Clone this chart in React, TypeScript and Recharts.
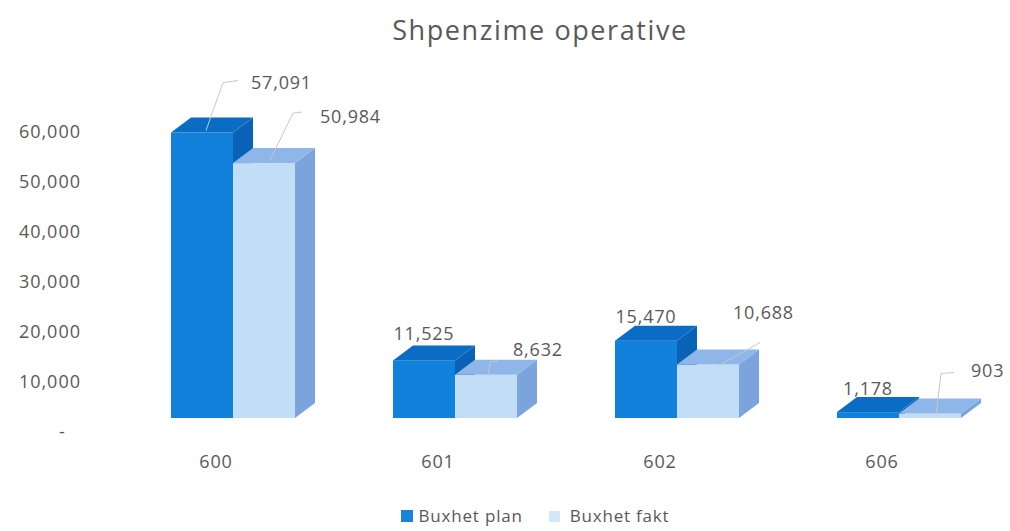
import React from 'react';
import { BarChart, Bar, XAxis, YAxis, Legend } from 'recharts';

const categories = ['600', '601', '602', '606'];
const planValues = [57091, 11525, 15470, 1178];
const factValues = [50984, 8632, 10688, 903];
const yTicks = [0, 10000, 20000, 30000, 40000, 50000, 60000];
const seriesNames = ['Buxhet plan', 'Buxhet fakt'];
const chartTitle = 'Shpenzime operative';

const data = categories.map((c, i) => ({ cat: c, plan: planValues[i], fakt: factValues[i] }));

const FONT = '"Open Sans", sans-serif';
const TEXT = '#595959';
const DEPTH_X = 20;
const DEPTH_Y = 15;

const planColors = { front: '#1181dc', top: '#0b6cc6', side: '#0a62b6' };
const faktColors = { front: '#c2ddf6', top: '#8fb6e8', side: '#7ba3dc' };

type LabelLayout = { tx: number; ty: number; anchor: 'start' | 'middle'; leader?: number[][] };

// label placement relative to the bar's front-left / front-top corner
const planLabelLayout: LabelLayout[] = [
  { tx: 80, ty: -50, anchor: 'start', leader: [[35, -2], [52, -50], [67, -52]] },
  { tx: 0, ty: -27, anchor: 'middle' },
  { tx: 0, ty: -24, anchor: 'middle' },
  { tx: 0, ty: -23, anchor: 'middle' },
];
const faktLabelLayout: LabelLayout[] = [
  { tx: 87, ty: -46, anchor: 'start', leader: [[37, -3], [60, -50], [69, -51]] },
  { tx: 58, ty: -25, anchor: 'start', leader: [[33, 2], [35, -13], [43, -14]] },
  { tx: 56, ty: -52, anchor: 'start', leader: [[40, 2], [83, -22]] },
  { tx: 72, ty: -43, anchor: 'start', leader: [[37, 2], [42, -40], [55, -41]] },
];

const fmt = (v: number) => v.toLocaleString('en-US');

const make3DShape = (colors: any, layout: LabelLayout[]) => (props: any) => {
  const { x, y, width, height, index, value } = props;
  const v = Array.isArray(value) ? value[1] - value[0] : value;
  const dx = DEPTH_X;
  const dy = DEPTH_Y;
  const lay = layout[index];
  const top = `${x},${y} ${x + dx},${y - dy} ${x + width + dx},${y - dy} ${x + width},${y}`;
  const side = `${x + width},${y} ${x + width + dx},${y - dy} ${x + width + dx},${y + height - dy} ${x + width},${y + height}`;
  const tx = lay.anchor === 'middle' ? x + width / 2 + lay.tx : x + lay.tx;
  return (
    <g>
      <polygon points={side} fill={colors.side} />
      <rect x={x} y={y} width={width} height={Math.max(height, 0)} fill={colors.front} />
      <polygon points={top} fill={colors.top} />
      {lay.leader && (
        <polyline
          points={lay.leader.map((p) => `${x + p[0]},${y + p[1]}`).join(' ')}
          fill="none"
          stroke="#c8c8c8"
          strokeWidth={1}
        />
      )}
      <text
        x={tx}
        y={y + lay.ty}
        dy="0.35em"
        textAnchor={lay.anchor}
        fontFamily={FONT}
        fontSize={18}
        letterSpacing={0.8}
        fill={TEXT}
      >
        {fmt(v)}
      </text>
    </g>
  );
};

const YTick = (props: any) => {
  const { x, y, payload } = props;
  const v = payload.value;
  if (v === 0) {
    return (
      <text x={x - 60} y={y + 14} dy="0.35em" textAnchor="middle" fontFamily={FONT} fontSize={18} fill={TEXT}>
        -
      </text>
    );
  }
  return (
    <text x={x - 41} y={y + 14} dy="0.35em" textAnchor="end" fontFamily={FONT} fontSize={18} letterSpacing={1} fill={TEXT}>
      {fmt(v)}
    </text>
  );
};

const XTick = (props: any) => {
  const { x, y, payload } = props;
  return (
    <text x={x - 17} y={y + 44} dy="0.35em" textAnchor="middle" fontFamily={FONT} fontSize={18} letterSpacing={0.8} fill={TEXT}>
      {payload.value}
    </text>
  );
};

const LegendContent = () => (
  <div
    style={{
      display: 'flex',
      justifyContent: 'center',
      alignItems: 'center',
      paddingLeft: 60,
      fontFamily: FONT,
      fontSize: 17,
      letterSpacing: 0.8,
      color: TEXT,
      lineHeight: '20px',
    }}
  >
    <span style={{ display: 'inline-flex', alignItems: 'center', marginRight: 26 }}>
      <span style={{ width: 12, height: 12, background: '#1a84dd', marginRight: 6, display: 'inline-block' }} />
      {seriesNames[0]}
    </span>
    <span style={{ display: 'inline-flex', alignItems: 'center' }}>
      <span style={{ width: 11, height: 11, background: '#d3e7f9', marginRight: 10, display: 'inline-block' }} />
      {seriesNames[1]}
    </span>
  </div>
);

export default function App() {
  return (
    <div style={{ position: 'absolute', left: 0, top: 0, width: 1010, height: 531, background: '#fff' }}>
      <div
        style={{
          position: 'absolute',
          left: 0,
          top: 12,
          width: 1080,
          textAlign: 'center',
          fontFamily: FONT,
          fontSize: 27,
          letterSpacing: 1.6,
          color: TEXT,
          lineHeight: '36px',
        }}
      >
        {chartTitle}
      </div>
      <BarChart
        width={1010}
        height={531}
        data={data}
        margin={{ top: 118, right: 0, left: 62, bottom: 83 }}
        barSize={62}
        barGap={0}
      >
        <XAxis dataKey="cat" axisLine={false} tickLine={false} tickSize={0} tickMargin={0} height={30} tick={<XTick />} interval={0} />
        <YAxis
          domain={[0, 60000]}
          ticks={yTicks}
          axisLine={false}
          tickLine={false}
          tickSize={0}
          tickMargin={0}
          width={60}
          tick={<YTick />}
          interval={0}
        />
        <Legend
          layout="horizontal"
          verticalAlign="middle"
          align="center"
          wrapperStyle={{ left: 0, top: 506, width: 1010 }}
          content={<LegendContent />}
        />
        <Bar dataKey="plan" name={seriesNames[0]} fill={planColors.front} shape={make3DShape(planColors, planLabelLayout)} isAnimationActive={false} />
        <Bar dataKey="fakt" name={seriesNames[1]} fill={faktColors.front} shape={make3DShape(faktColors, faktLabelLayout)} isAnimationActive={false} />
      </BarChart>
    </div>
  );
}
